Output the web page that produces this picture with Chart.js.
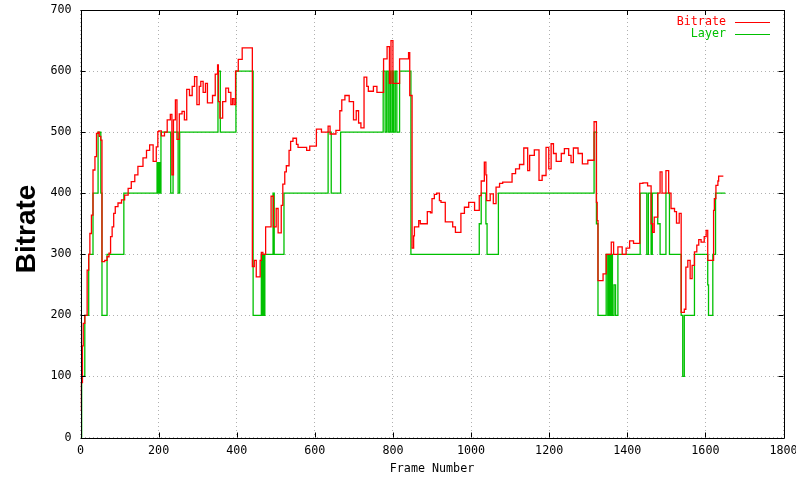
<!DOCTYPE html>
<html>
<head>
<meta charset="utf-8">
<script src="https://cdn.jsdelivr.net/npm/chart.js@4"></script>
<style>
  html, body { margin: 0; padding: 0; background: #ffffff; }
  #wrap { width: 796px; height: 477px; }
</style>
</head>
<body>
<div id="wrap"><canvas id="c" width="796" height="477"></canvas></div>
<script>
// Bitrate per frame (step changes: frame at which the new value starts)
const bitrateFrames = [
  0, 2, 5, 7, 11, 17, 21, 24, 28, 32, 37, 41, 45, 48, 52, 55, 62, 68, 73, 77,
  81, 85, 89, 96, 105, 113, 122, 130, 139, 147, 160, 169, 177, 186, 194, 198, 201, 207, 215, 222,
  230, 234, 238, 243, 247, 253, 260, 266, 272, 279, 286, 292, 298, 304, 308, 314, 320, 325, 338, 345,
  351, 353, 357, 364, 372, 379, 385, 389, 393, 397, 404, 414, 440, 443, 445, 450, 460, 463, 467, 474,
  482, 488, 494, 501, 506, 514, 518, 523, 527, 534, 538, 544, 553, 557, 579, 587, 604, 617, 634, 639,
  654, 664, 669, 677, 688, 699, 706, 712, 718, 726, 733, 737, 750, 759, 776, 785, 791, 795, 800, 817,
  840, 843, 849, 853, 855, 866, 870, 888, 896, 900, 906, 912, 919, 923, 934, 953, 960, 974, 983, 994,
  1009, 1021, 1026, 1034, 1038, 1040, 1049, 1057, 1064, 1073, 1081, 1105, 1114, 1124, 1135, 1145, 1150, 1162, 1174, 1182,
  1192, 1199, 1205, 1211, 1218, 1231, 1239, 1250, 1256, 1262, 1274, 1285, 1299, 1315, 1321, 1323, 1325, 1338, 1346, 1359,
  1365, 1376, 1387, 1397, 1406, 1416, 1432, 1440, 1452, 1461, 1465, 1469, 1478, 1484, 1489, 1499, 1506, 1512, 1521, 1526,
  1533, 1538, 1546, 1550, 1555, 1561, 1566, 1572, 1578, 1583, 1589, 1597, 1602, 1606, 1621, 1623, 1627, 1632, 1634, 1646
];
const bitrateValues = [
  45, 90, 150, 187, 200, 274, 300, 334, 364, 438, 460, 498, 500, 493, 487, 288, 290, 296, 302, 329,
  345, 367, 378, 384, 389, 397, 408, 419, 430, 444, 458, 470, 479, 452, 476, 501, 502, 494, 500, 520,
  529, 430, 520, 553, 488, 530, 534, 520, 570, 560, 575, 591, 545, 575, 583, 565, 580, 548, 560, 595,
  610, 550, 523, 550, 572, 565, 545, 555, 545, 600, 619, 638, 280, 280, 290, 263, 290, 303, 300, 345,
  345, 395, 345, 375, 335, 380, 415, 435, 445, 470, 485, 490, 480, 475, 470, 477, 505, 500, 510, 497,
  503, 535, 553, 560, 550, 520, 535, 515, 507, 590, 575, 567, 575, 565, 620, 640, 580, 650, 580, 620,
  630, 560, 310, 330, 345, 355, 350, 370, 368, 391, 398, 400, 388, 385, 353, 345, 336, 367, 377, 385,
  372, 396, 420, 451, 430, 388, 399, 383, 410, 416, 418, 432, 440, 447, 474, 437, 462, 471, 421, 429,
  475, 440, 481, 465, 452, 465, 473, 462, 450, 474, 465, 448, 454, 517, 385, 355, 257, 268, 300, 320,
  300, 312, 300, 310, 322, 318, 416, 417, 412, 350, 336, 361, 400, 435, 400, 437, 400, 375, 370, 351,
  367, 205, 210, 279, 290, 260, 282, 304, 315, 324, 320, 329, 339, 290, 372, 391, 413, 420, 428, 428
];

// Layer per frame (step changes)
const layerFrames = [
  0, 3, 11, 21, 32, 45, 52, 55, 68, 111, 196, 199, 201, 203, 206, 231, 237, 250, 254, 352,
  358, 398, 442, 463, 465, 467, 469, 472, 493, 496, 521, 634, 642, 666, 775, 780, 784, 788, 792, 795,
  799, 802, 806, 810, 817, 846, 1021, 1026, 1038, 1041, 1070, 1315, 1321, 1325, 1346, 1350, 1353, 1356, 1359, 1362,
  1366, 1370, 1376, 1433, 1450, 1454, 1461, 1464, 1478, 1484, 1499, 1508, 1538, 1542, 1546, 1572, 1606, 1608, 1619, 1626,
  1651
];
const layerValues = [
  0, 100, 200, 300, 400, 500, 400, 200, 300, 400, 450, 400, 450, 400, 500, 400, 500, 400, 500, 600,
  500, 600, 200, 300, 200, 300, 200, 300, 400, 300, 400, 500, 400, 500, 600, 500, 600, 500, 600, 500,
  600, 500, 600, 500, 600, 300, 350, 400, 350, 300, 400, 500, 350, 200, 300, 200, 300, 200, 300, 200,
  250, 200, 300, 400, 300, 400, 300, 400, 350, 300, 400, 300, 200, 100, 200, 300, 250, 200, 300, 400,
  400
];

// Axis tick values
const xTicks = [0, 200, 400, 600, 800, 1000, 1200, 1400, 1600, 1800];
const yTicks = [0, 100, 200, 300, 400, 500, 600, 700];

const RED = '#ff0000';
const GREEN = '#00c000';
const MONO = "'DejaVu Sans Mono', 'Liberation Mono', monospace";
const FS = 11.7;

const toPoints = (fs, vs) => fs.map((f, i) => ({ x: f, y: vs[i] }));

// Box border, inward ticks on all four sides, titles and the key
const frameBox = {
  id: 'frameBox',
  afterDatasetsDraw(chart) {
    const { ctx, chartArea: a, scales: { x, y } } = chart;
    ctx.save();
    ctx.strokeStyle = '#000';
    ctx.lineWidth = 1;
    ctx.beginPath();
    ctx.rect(Math.round(a.left) + 0.5, Math.round(a.top) + 0.5,
             Math.round(a.right - a.left), Math.round(a.bottom - a.top));
    ctx.stroke();
    const tl = 5;
    ctx.beginPath();
    xTicks.forEach(v => {
      const px = Math.round(x.getPixelForValue(v)) + 0.5;
      ctx.moveTo(px, a.bottom); ctx.lineTo(px, a.bottom - tl);
      ctx.moveTo(px, a.top); ctx.lineTo(px, a.top + tl);
    });
    yTicks.forEach(v => {
      const py = Math.round(y.getPixelForValue(v)) + 0.5;
      ctx.moveTo(a.left, py); ctx.lineTo(a.left + tl, py);
      ctx.moveTo(a.right, py); ctx.lineTo(a.right - tl, py);
    });
    ctx.stroke();

    // key
    ctx.font = FS + 'px ' + MONO;
    ctx.textAlign = 'right';
    ctx.textBaseline = 'middle';
    const keys = [['Bitrate', RED, 21.5], ['Layer', GREEN, 33.5]];
    keys.forEach(([t, c, ky]) => {
      ctx.fillStyle = c;
      ctx.fillText(t, 726, ky);
      ctx.strokeStyle = c;
      ctx.beginPath();
      ctx.moveTo(735, Math.round(ky) + 0.5);
      ctx.lineTo(770, Math.round(ky) + 0.5);
      ctx.stroke();
    });

    // axis titles
    ctx.fillStyle = '#000';
    ctx.textAlign = 'center';
    ctx.font = FS + 'px ' + MONO;
    ctx.fillText('Frame Number', (a.left + a.right) / 2, 468.5);
    ctx.save();
    ctx.translate(27, 229);
    ctx.rotate(-Math.PI / 2);
    ctx.font = "bold 28px 'Liberation Sans', Arial, sans-serif";
    ctx.fillText('Bitrate', 0, 0);
    ctx.restore();
    ctx.restore();
  }
};

new Chart(document.getElementById('c'), {
  type: 'line',
  data: {
    datasets: [
      {
        label: 'Bitrate',
        data: toPoints(bitrateFrames, bitrateValues),
        borderColor: RED,
        borderWidth: 1.3,
        pointRadius: 0,
        stepped: true,
        fill: false
      },
      {
        label: 'Layer',
        data: toPoints(layerFrames, layerValues),
        borderColor: GREEN,
        borderWidth: 1.3,
        pointRadius: 0,
        stepped: true,
        fill: false
      }
    ]
  },
  options: {
    responsive: false,
    animation: false,
    devicePixelRatio: 1,
    layout: { padding: { top: 10, right: 12.5, left: 0, bottom: 0 } },
    scales: {
      x: {
        type: 'linear',
        min: 0, max: 1800,
        afterFit: s => { s.height = 39.5; s.paddingLeft = 0; s.paddingRight = 0; },
        afterBuildTicks: s => { s.ticks = xTicks.map(v => ({ value: v })); },
        ticks: { color: '#000', font: { family: MONO, size: FS }, padding: 6, maxRotation: 0,
                 callback: v => String(v) },
        grid: { color: '#b0b0b0', lineWidth: 1, drawTicks: false },
        border: { display: false, dash: [1, 3] }
      },
      y: {
        type: 'linear',
        min: 0, max: 700,
        afterFit: s => { s.width = 80.5; s.paddingTop = 0; s.paddingBottom = 0; },
        afterBuildTicks: s => { s.ticks = yTicks.map(v => ({ value: v })); },
        ticks: { color: '#000', font: { family: MONO, size: FS }, padding: 9,
                 callback: v => String(v) },
        grid: { color: '#b0b0b0', lineWidth: 1, drawTicks: false },
        border: { display: false, dash: [1, 3] }
      }
    },
    plugins: { legend: { display: false }, tooltip: { enabled: false } }
  },
  plugins: [frameBox]
});
</script>
</body>
</html>
